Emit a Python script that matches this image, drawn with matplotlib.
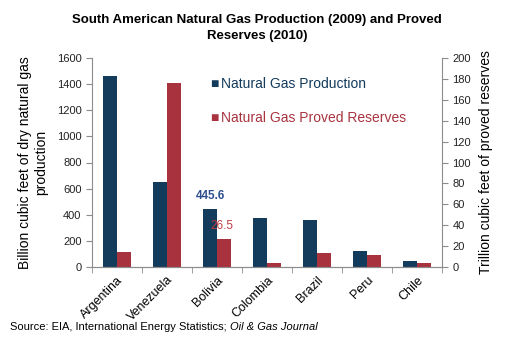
import numpy as np
import matplotlib.pyplot as plt

plt.rcParams['font.family'] = ['Liberation Sans', 'DejaVu Sans']

countries = ['Argentina', 'Venezuela', 'Bolivia', 'Colombia', 'Brazil', 'Peru', 'Chile']
production = [1462, 648, 445.6, 373, 360, 122, 48]      # Bcf, 2009
reserves = [14.0, 176.0, 26.5, 3.8, 13.1, 11.5, 3.8]     # Tcf, 2010

c_prod = '#133B5C'
c_res = '#A8333F'
c_spine = '#8C8C8C'

fig = plt.figure(figsize=(5.14, 3.38), dpi=100)
ax = fig.add_axes([92 / 514, 1 - 267 / 338, 350 / 514, 209 / 338])
ax2 = ax.twinx()

x = np.arange(len(countries))
w = 0.28
ax.bar(x - w / 2, production, w, color=c_prod, zorder=2)
ax2.bar(x + w / 2, reserves, w, color=c_res, zorder=2)

ax.set_xlim(-0.5, len(countries) - 0.5)
ax.set_ylim(0, 1600)
ax2.set_ylim(0, 200)
ax.set_yticks(np.arange(0, 1601, 200))
ax2.set_yticks(np.arange(0, 201, 20))

ax.set_xticks(x)
ax.set_xticklabels(countries, rotation=45, ha='right', rotation_mode='anchor', fontsize=9)
ax.set_xticks(np.arange(-0.5, len(countries)), minor=True)
ax.tick_params(axis='x', which='major', length=0, pad=5)
ax.tick_params(axis='x', which='minor', length=4, color=c_spine)

for a in (ax, ax2):
    a.spines['top'].set_visible(False)
    for s in ('left', 'right', 'bottom'):
        a.spines[s].set_color(c_spine)
    a.tick_params(axis='y', labelsize=8, length=4, color=c_spine, labelcolor='#222222')
ax.spines['right'].set_visible(False)
ax2.spines['left'].set_visible(False)

ax.set_ylabel('Billion cubic feet of dry natural gas\nproduction', fontsize=10, labelpad=6)
ax2.set_ylabel('Trillion cubic feet of proved reserves', fontsize=10, labelpad=6)

ax.text(x[2] - w / 2, production[2] + 55, '445.6', color='#2E4F8F', fontsize=8.5,
        fontweight='bold', ha='center', va='bottom')
ax2.text(x[2] + w / 2 - 0.05, reserves[2] + 7, '26.5', color='#C0393F', fontsize=8.5,
         ha='center', va='bottom')

fig.text(0.5, 1 - 28 / 338, 'South American Natural Gas Production (2009) and Proved\nReserves (2010)',
         ha='center', va='center', fontsize=9.5, fontweight='bold', linespacing=1.45)

# legend drawn as markers + text
fig.text(210 / 514, 1 - 84 / 338, '\u25A0', color=c_prod, fontsize=10, va='center', ha='left')
fig.text(221 / 514, 1 - 84 / 338, 'Natural Gas Production', color=c_prod, fontsize=10, va='center', ha='left')
fig.text(210 / 514, 1 - 118 / 338, '\u25A0', color=c_res, fontsize=10, va='center', ha='left')
fig.text(221 / 514, 1 - 118 / 338, 'Natural Gas Proved Reserves', color=c_res, fontsize=10, va='center', ha='left')

src = fig.text(10 / 514, 1 - 327 / 338, 'Source: EIA, International Energy Statistics; ',
               fontsize=8, va='center', ha='left')
fig.canvas.draw()
bb = src.get_window_extent()
fig.text(bb.x1 / fig.bbox.width, 1 - 327 / 338, 'Oil & Gas Journal', fontsize=8,
         style='italic', va='center', ha='left')

fig.savefig('out.png', dpi=100)
